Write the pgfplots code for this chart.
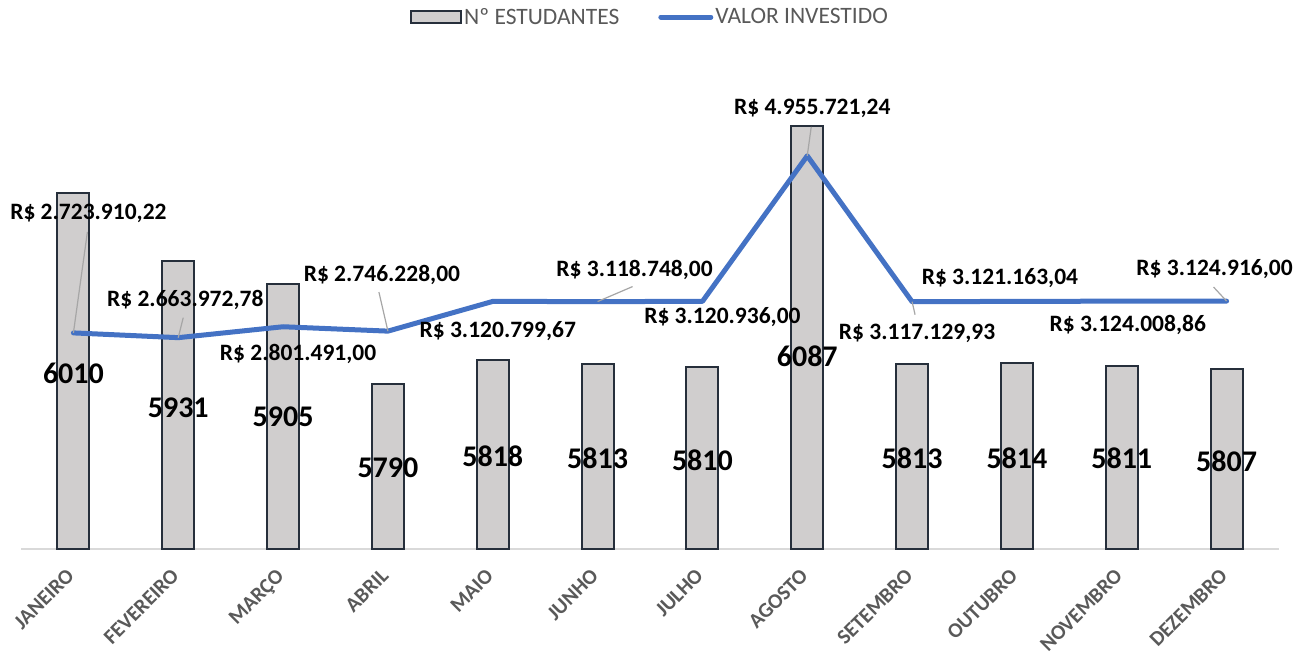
\documentclass[border=0pt]{standalone}
\usepackage{fontspec}
\setmainfont{Carlito}
\usepackage{pgfplots}
\pgfplotsset{compat=1.18}
\definecolor{barfill}{HTML}{D0CECE}
\definecolor{bardraw}{HTML}{262F3B}
\definecolor{lineblue}{HTML}{4472C4}
\definecolor{txtgray}{HTML}{595959}
\definecolor{leadgray}{HTML}{A6A6A6}
\definecolor{axisgray}{HTML}{D9D9D9}
\tikzset{
 blbl/.style={font=\fontsize{30}{34}\selectfont\bfseries,text=black},
 vlbl/.style={font=\fontsize{23.5}{27}\selectfont\bfseries,text=black},
 ldr/.style={leadgray,line width=1.2pt}}

\begin{document}
\begin{tikzpicture}
\useasboundingbox (-21pt,-104pt) rectangle (1284pt,549pt);
% primary axis: students (bars)
\begin{axis}[scale only axis,width=1258pt,height=476pt,
 xmin=-0.5,xmax=11.5,ymin=5600,ymax=6148,
 axis x line*=bottom,axis y line=none,
 x axis line style={axisgray,line width=1.5pt,-},
 xtick={0,...,11},major tick length=0pt,
 xticklabels={JANEIRO,FEVEREIRO,MARÇO,ABRIL,MAIO,JUNHO,JULHO,AGOSTO,SETEMBRO,OUTUBRO,NOVEMBRO,DEZEMBRO},
 xticklabel style={xshift=-8pt,yshift=-17pt,rotate=45,anchor=north east,text=txtgray,inner sep=1pt,
  font=\fontsize{21}{25}\selectfont\bfseries},
 legend style={at={(0.5,1)},anchor=south,yshift=43pt,draw=none,fill=none,
  font=\fontsize{23.5}{28}\selectfont,text=txtgray,
  /tikz/every even column/.append style={column sep=37pt}},
 legend columns=2]
\addplot[ybar,bar width=32pt,fill=barfill,draw=bardraw,line width=2pt,forget plot]
 coordinates {(0,6010) (1,5931) (2,5905) (3,5790) (4,5818) (5,5813)
 (6,5810) (7,6087) (8,5813) (9,5814) (10,5811) (11,5807)};
\addlegendimage{legend image code/.code={\draw[fill=barfill,draw=bardraw,line width=2pt] (0pt,-6pt) rectangle (50pt,6pt);}}
\addlegendentry{Nº ESTUDANTES}
\addlegendimage{legend image code/.code={\draw[lineblue,line width=5pt,line cap=round] (2pt,0pt) -- (52pt,0pt);}}
\addlegendentry{VALOR INVESTIDO}
\node[blbl] at (axis cs:0,5802.6) {6010};
\node[blbl] at (axis cs:1,5762.3) {5931};
\node[blbl] at (axis cs:2,5752.0) {5905};
\node[blbl] at (axis cs:3,5693.2) {5790};
\node[blbl] at (axis cs:4,5707.1) {5818};
\node[blbl] at (axis cs:5,5704.8) {5813};
\node[blbl] at (axis cs:6,5702.5) {5810};
\node[blbl] at (axis cs:7,5822.2) {6087};
\node[blbl] at (axis cs:8,5704.8) {5813};
\node[blbl] at (axis cs:9,5704.8) {5814};
\node[blbl] at (axis cs:10,5704.8) {5811};
\node[blbl] at (axis cs:11,5701.3) {5807};
\end{axis}
% secondary axis: invested value (line)
\begin{axis}[scale only axis,width=1258pt,height=476pt,
 xmin=-0.5,xmax=11.5,ymin=0,ymax=6000000,hide axis,clip=false]
\addplot[lineblue,line width=5pt,line join=round,line cap=round] coordinates {
 (0,2723910.22) (1,2663972.78) (2,2801491.00) (3,2746228.00)
 (4,3120799.67) (5,3118748.00) (6,3120936.00) (7,4955721.24)
 (8,3117129.93) (9,3121163.04) (10,3124008.86) (11,3124916.00)};
\draw[ldr] (axis cs:0,2723910.22) -- ++(14pt,101pt);
\draw[ldr] (axis cs:1,2663972.78) -- ++(5pt,20pt);
\draw[ldr] (axis cs:3,2746228.00) -- ++(-9pt,39pt);
\draw[ldr] (axis cs:5,3118748.00) -- ++(35pt,15pt);
\draw[ldr] (axis cs:7,4955721.24) -- ++(4pt,29pt);
\draw[ldr] (axis cs:8,3117129.93) -- ++(3pt,-13pt);
\draw[ldr] (axis cs:11,3124916.00) -- ++(-13pt,14pt);
\node[vlbl,xshift=15pt,yshift=120pt] at (axis cs:0,2723910.22) {R\$ 2.723.910,22};
\node[vlbl,xshift=7pt,yshift=38pt] at (axis cs:1,2663972.78) {R\$ 2.663.972,78};
\node[vlbl,xshift=15pt,yshift=-27pt] at (axis cs:2,2801491.00) {R\$ 2.801.491,00};
\node[vlbl,xshift=-6pt,yshift=56pt] at (axis cs:3,2746228.00) {R\$ 2.746.228,00};
\node[vlbl,xshift=5pt,yshift=-30pt] at (axis cs:4,3120799.67) {R\$ 3.120.799,67};
\node[vlbl,xshift=37pt,yshift=32pt] at (axis cs:5,3118748.00) {R\$ 3.118.748,00};
\node[vlbl,xshift=20pt,yshift=-16pt] at (axis cs:6,3120936.00) {R\$ 3.120.936,00};
\node[vlbl,xshift=5pt,yshift=47pt] at (axis cs:7,4955721.24) {R\$ 4.955.721,24};
\node[vlbl,xshift=5pt,yshift=-32pt] at (axis cs:8,3117129.93) {R\$ 3.117.129,93};
\node[vlbl,xshift=-17pt,yshift=23pt] at (axis cs:9,3121163.04) {R\$ 3.121.163,04};
\node[vlbl,xshift=6pt,yshift=-24pt] at (axis cs:10,3124008.86) {R\$ 3.124.008,86};
\node[vlbl,xshift=-12pt,yshift=32pt] at (axis cs:11,3124916.00) {R\$ 3.124.916,00};
\end{axis}
\end{tikzpicture}
\end{document}
